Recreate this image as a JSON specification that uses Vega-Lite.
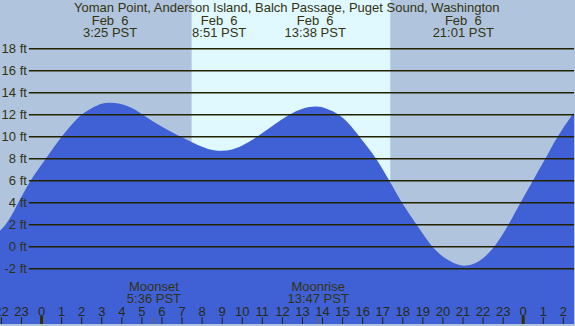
{
  "$schema": "https://vega.github.io/schema/vega-lite/v6.json",
  "width": 575,
  "height": 326,
  "autosize": {"type": "fit", "contains": "padding"},
  "padding": 0,
  "background": "#B0C4DE",
  "config": {"view": {"stroke": null}, "text": {"font": "Liberation Sans", "fontSize": 13, "color": "#333311"}},
  "layer": [
    {
      "data": {"values": [{"rise": 7.478, "set": 17.378}]},
      "mark": {"type": "rect", "color": "#E0F8FF"},
      "encoding": {
        "x": {"field": "rise", "type": "quantitative", "scale": {"domain": [-2.07, 26.53], "nice": false, "zero": false}, "axis": null},
        "x2": {"field": "set"}
      }
    },
    {
      "data": {"values": [
      {"hour": -3.2, "ft": -0.5}, {"hour": -2.6, "ft": 0.4}, {"hour": -2.07, "ft": 1.45}, {"hour": -1.78, "ft": 2.05},
      {"hour": -1.45, "ft": 3.0}, {"hour": -1.16, "ft": 4.0},
      {"hour": -0.55, "ft": 6.0}, {"hour": 0.21, "ft": 8.0}, {"hour": 1.0, "ft": 10.0}, {"hour": 1.5, "ft": 11.1},
      {"hour": 1.99, "ft": 12.0}, {"hour": 2.5, "ft": 12.6}, {"hour": 3.0, "ft": 13.0}, {"hour": 3.4, "ft": 13.1},
      {"hour": 3.9, "ft": 13.0}, {"hour": 4.5, "ft": 12.61}, {"hour": 5.05, "ft": 12.0}, {"hour": 5.5, "ft": 11.45},
      {"hour": 6.0, "ft": 10.9}, {"hour": 6.5, "ft": 10.4}, {"hour": 6.97, "ft": 9.97}, {"hour": 7.5, "ft": 9.5},
      {"hour": 7.88, "ft": 9.18}, {"hour": 8.4, "ft": 8.85}, {"hour": 8.96, "ft": 8.73},
      {"hour": 9.5, "ft": 8.85}, {"hour": 10.0, "ft": 9.2}, {"hour": 10.66, "ft": 9.9}, {"hour": 11.5, "ft": 10.97},
      {"hour": 12.35, "ft": 12.0}, {"hour": 13.0, "ft": 12.54}, {"hour": 13.68, "ft": 12.74}, {"hour": 14.2, "ft": 12.55},
      {"hour": 14.81, "ft": 12.0}, {"hour": 15.3, "ft": 11.2}, {"hour": 15.84, "ft": 10.0}, {"hour": 16.67, "ft": 8.0}, {"hour": 17.33, "ft": 6.0},
      {"hour": 17.96, "ft": 4.0}, {"hour": 18.69, "ft": 2.0}, {"hour": 19.48, "ft": 0.0}, {"hour": 19.9, "ft": -0.75},
      {"hour": 20.3, "ft": -1.25}, {"hour": 20.7, "ft": -1.6}, {"hour": 21.06, "ft": -1.72}, {"hour": 21.5, "ft": -1.57},
      {"hour": 22.0, "ft": -1.04}, {"hour": 22.55, "ft": 0.0}, {"hour": 23.0, "ft": 1.2}, {"hour": 23.26, "ft": 2.0},
      {"hour": 23.8, "ft": 3.8}, {"hour": 24.43, "ft": 5.85}, {"hour": 25.07, "ft": 7.9}, {"hour": 25.7, "ft": 9.95},
      {"hour": 26.45, "ft": 12.0}, {"hour": 27.0, "ft": 13.2}
      ]},
      "mark": {"type": "area", "color": "#4060D6", "interpolate": "catmull-rom", "clip": true},
      "encoding": {
        "x": {"field": "hour", "type": "quantitative"},
        "y": {"field": "ft", "type": "quantitative", "scale": {"domain": [-7.02, 22.43], "nice": false, "zero": false}, "axis": null},
        "y2": {"datum": -7.02}
      }
    },
    {
      "data": {"values": [
      {"ft": -2, "label": "-2 ft"}, {"ft": 0, "label": "0 ft"}, {"ft": 2, "label": "2 ft"}, {"ft": 4, "label": "4 ft"},
      {"ft": 6, "label": "6 ft"}, {"ft": 8, "label": "8 ft"}, {"ft": 10, "label": "10 ft"}, {"ft": 12, "label": "12 ft"},
      {"ft": 14, "label": "14 ft"}, {"ft": 16, "label": "16 ft"}, {"ft": 18, "label": "18 ft"}
      ]},
      "layer": [
        {
          "mark": {"type": "rule", "color": "#222200", "strokeWidth": 1.3},
          "encoding": {
            "y": {"field": "ft", "type": "quantitative"},
            "x": {"datum": -0.632},
            "x2": {"datum": 26.53}
          }
        },
        {
          "mark": {"type": "text", "align": "right", "baseline": "middle"},
          "encoding": {
            "y": {"field": "ft", "type": "quantitative"},
            "x": {"datum": -0.73},
            "text": {"field": "label"}
          }
        }
      ]
    },
    {
      "data": {"values": [
      {"hour": -2, "label": "22"}, {"hour": -1, "label": "23"}, {"hour": 0, "label": "0"}, {"hour": 1, "label": "1"},
      {"hour": 2, "label": "2"}, {"hour": 3, "label": "3"}, {"hour": 4, "label": "4"}, {"hour": 5, "label": "5"},
      {"hour": 6, "label": "6"}, {"hour": 7, "label": "7"}, {"hour": 8, "label": "8"}, {"hour": 9, "label": "9"},
      {"hour": 10, "label": "10"}, {"hour": 11, "label": "11"}, {"hour": 12, "label": "12"}, {"hour": 13, "label": "13"},
      {"hour": 14, "label": "14"}, {"hour": 15, "label": "15"}, {"hour": 16, "label": "16"}, {"hour": 17, "label": "17"},
      {"hour": 18, "label": "18"}, {"hour": 19, "label": "19"}, {"hour": 20, "label": "20"}, {"hour": 21, "label": "21"},
      {"hour": 22, "label": "22"}, {"hour": 23, "label": "23"}, {"hour": 24, "label": "0"}, {"hour": 25, "label": "1"},
      {"hour": 26, "label": "2"}
      ]},
      "layer": [
        {
          "mark": {"type": "rule", "color": "#222200", "strokeWidth": 1},
          "encoding": {
            "x": {"field": "hour", "type": "quantitative"},
            "y": {"datum": -6.4},
            "y2": {"datum": -7.02}
          }
        },
        {
          "transform": [{"filter": "datum.hour % 24 == 0"}],
          "mark": {"type": "rule", "color": "#332f00", "strokeWidth": 3},
          "encoding": {
            "x": {"field": "hour", "type": "quantitative"},
            "y": {"datum": -6.3},
            "y2": {"datum": -7.02}
          }
        },
        {
          "mark": {"type": "text", "align": "center", "baseline": "middle", "clip": true, "color": "#2a2a10"},
          "encoding": {
            "x": {"field": "hour", "type": "quantitative"},
            "y": {"datum": -5.93},
            "text": {"field": "label"}
          }
        }
      ]
    },
    {
      "data": {"values": [
        {"hour": 5.6, "name": "Moonset", "time": "5:36 PST"},
        {"hour": 13.783, "name": "Moonrise", "time": "13:47 PST"}
      ]},
      "layer": [
        {
          "mark": {"type": "rule", "color": "#7a6a30", "strokeWidth": 1},
          "encoding": {
            "x": {"field": "hour", "type": "quantitative"},
            "y": {"datum": -6.4},
            "y2": {"datum": -7.02}
          }
        },
        {
          "mark": {"type": "text", "align": "center", "baseline": "middle"},
          "encoding": {
            "x": {"field": "hour", "type": "quantitative"},
            "y": {"datum": -3.7},
            "text": {"field": "name"}
          }
        },
        {
          "mark": {"type": "text", "align": "center", "baseline": "middle"},
          "encoding": {
            "x": {"field": "hour", "type": "quantitative"},
            "y": {"datum": -4.79},
            "text": {"field": "time"}
          }
        }
      ]
    },
    {
      "data": {"values": [
        {"hour": 3.417, "date": "Feb\u00a0\u00a06", "time": "3:25 PST"},
        {"hour": 8.85, "date": "Feb\u00a0\u00a06", "time": "8:51 PST"},
        {"hour": 13.633, "date": "Feb\u00a0\u00a06", "time": "13:38 PST"},
        {"hour": 21.017, "date": "Feb\u00a0\u00a06", "time": "21:01 PST"}
      ]},
      "layer": [
        {
          "mark": {"type": "text", "align": "center", "baseline": "middle"},
          "encoding": {
            "x": {"field": "hour", "type": "quantitative"},
            "y": {"datum": 20.55},
            "text": {"field": "date"}
          }
        },
        {
          "mark": {"type": "text", "align": "center", "baseline": "middle"},
          "encoding": {
            "x": {"field": "hour", "type": "quantitative"},
            "y": {"datum": 19.47},
            "text": {"field": "time"}
          }
        }
      ]
    },
    {
      "data": {"values": [{"hour": 12.22, "label": "Yoman Point, Anderson Island, Balch Passage, Puget Sound, Washington"}]},
      "mark": {"type": "text", "align": "center", "baseline": "middle"},
      "encoding": {
        "x": {"field": "hour", "type": "quantitative"},
        "y": {"datum": 21.66},
        "text": {"field": "label"}
      }
    }
  ]
}
